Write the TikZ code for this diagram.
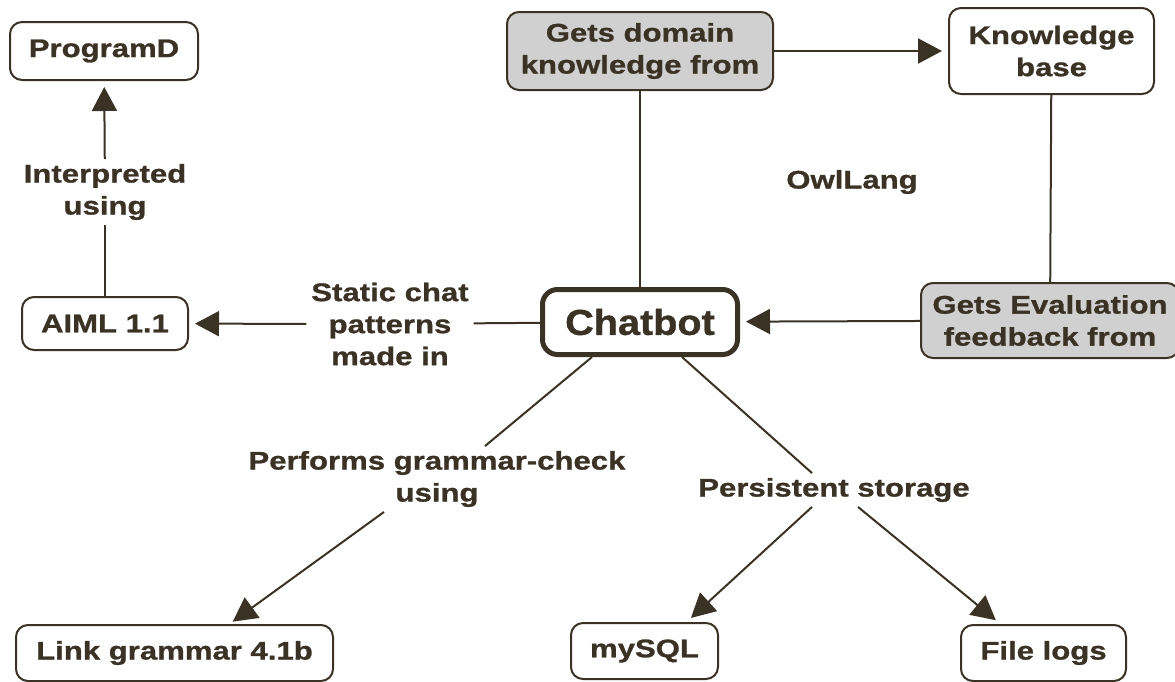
\documentclass[tikz,border=0pt]{standalone}
\usepackage{fontspec}
\usepackage{xcolor}
\usepackage{tikz}
\usetikzlibrary{positioning,arrows.meta}

\newfontfamily\lblfont[FakeStretch=1.22,FakeBold=1]{Liberation Sans}
\newfontfamily\hubfont[FakeStretch=1.1,FakeBold=1]{Liberation Sans}
\definecolor{ink}{HTML}{3B3226}
\definecolor{shade}{HTML}{D0D0D0}

\begin{document}
\begin{tikzpicture}[x=1pt,y=-1pt,color=ink,line width=2pt,
                    >={Triangle[length=24pt,width=25pt]},
                    arr/.style={->,shorten >=6pt},
                    lbl/.style={font=\lblfont\bfseries\fontsize{25.5}{32}\selectfont,
                                align=center,inner sep=4pt},
                    box/.style={lbl,draw=ink,fill=white,rounded corners=12pt,
                                minimum height=56pt,inner sep=0pt},
                    greybox/.style={box,fill=shade},
                    hub/.style={draw=ink,fill=white,line width=5pt,rounded corners=15pt,
                                font=\hubfont\bfseries\fontsize{36}{40}\selectfont,
                                minimum width=195pt,minimum height=65pt}]
    \useasboundingbox (0,0) rectangle (1175,681);

    % boxes
    \node[box,minimum width=188pt,minimum height=58pt] (prog) at (104,51) {ProgramD};
    \node[box,minimum width=166pt,minimum height=53pt] (aiml) at (105,323.5) {AIML 1.1};
    \node[greybox,minimum width=266pt,minimum height=78pt] (domain) at (640,51)
        {Gets domain\\knowledge from};
    \node[box,minimum width=205pt,minimum height=86pt] (kb) at (1051.5,51) {Knowledge\\base};
    \node[hub] (chat) at (640,322) {Chatbot};
    \node[greybox,minimum width=258pt,minimum height=75pt] (eval) at (1050,320.5)
        {Gets Evaluation\\feedback from};
    \node[box,minimum width=317pt] (link) at (174.5,653) {Link grammar 4.1b};
    \node[box,minimum width=147pt] (sql) at (644.5,651) {mySQL};
    \node[box,minimum width=165pt] (logs) at (1043.5,653) {File logs};

    % labels
    \node[lbl] (interp) at (105,192) {Interpreted\\using};
    \node[lbl] (static) at (390,324) {Static chat\\patterns\\made in};
    \node[lbl] (owl) at (852,182) {OwlLang};
    \node[lbl] (perf) at (437,479) {Performs grammar-check\\using};
    \node[lbl] (pers) at (834,490) {Persistent storage};

    % connectors
    \draw[arr] (interp) -- (prog);
    \draw (interp) -- (aiml);
    \draw[arr] (static) -- (aiml);
    \draw (static) -- (chat);
    \draw (domain) -- (chat);
    \draw[arr] (domain) -- (kb);
    \draw (kb) -- (eval);
    \draw[arr] (eval) -- (chat);
    \draw ([xshift=-48pt]chat.south) -- ([xshift=48pt]perf.north);
    \draw[arr,shorten >=4pt] ([xshift=-53pt]perf.south) -- ([xshift=55pt]link.north);
    \draw ([xshift=42pt]chat.south) -- ([xshift=-22pt]pers.north);
    \draw[arr] ([xshift=-22pt]pers.south) -- ([xshift=42pt]sql.north);
    \draw[arr] ([xshift=24pt]pers.south) -- ([xshift=-43pt]logs.north);
\end{tikzpicture}
\end{document}
